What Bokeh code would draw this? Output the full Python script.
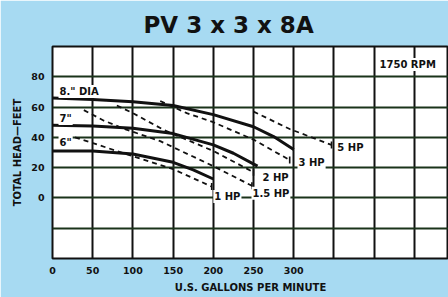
import math
from bokeh.plotting import figure
from bokeh.models import Range1d, FixedTicker, Label
from bokeh.embed import file_html
from bokeh.resources import INLINE

# ---- data ----
x_ticks = [0, 50, 100, 150, 200, 250, 300]
y_ticks = [0, 20, 40, 60, 80]
x_grid = [0, 50, 100, 150, 200, 250, 300, 350, 400, 450]
y_grid = [-40, -20, 0, 20, 40, 60, 80, 100]

dia8_gpm = [0, 50, 100, 150, 200, 250, 275, 300]
dia8_head = [66, 65, 63.5, 61, 55, 47, 40.5, 32]
dia7_gpm = [0, 50, 100, 150, 200, 225, 255]
dia7_head = [48, 47.5, 46, 42.5, 35, 29.5, 21]
dia6_gpm = [0, 50, 100, 150, 175, 200]
dia6_head = [31, 31, 29, 23.5, 18.5, 12.5]

hp1_gpm = [28, 60, 100, 150, 198]
hp1_head = [40, 34.5, 27.5, 19, 7.5]
hp15_gpm = [39, 64, 90, 134, 160, 200, 248]
hp15_head = [58, 51, 45.5, 37.5, 31, 21, 8]
hp2_gpm = [80, 100, 138, 160, 200, 250]
hp2_head = [61, 56, 45, 40, 31, 17]
hp3_gpm = [134, 167, 200, 250, 295]
hp3_head = [64, 56, 50, 38.5, 25]
hp5_gpm = [250, 295, 347]
hp5_head = [57, 45.5, 35]

BG = "#a7daf2"
INK = "#111111"
FONT = "DejaVu Sans"

p = figure(width=448, height=297, x_range=Range1d(0, 492.5), y_range=Range1d(-40, 100),
           output_backend="svg", toolbar_location=None,
           min_border_left=52, min_border_right=0, min_border_top=46, min_border_bottom=39)
p.background_fill_color = "white"
p.border_fill_color = BG
p.outline_line_color = INK
p.outline_line_width = 2

p.title.text = "PV 3 x 3 x 8A"
p.title.text_font = FONT
p.title.text_font_style = "bold"
p.title.text_font_size = "23px"
p.title.text_color = INK
p.title.align = "left"
p.title.offset = 91
p.title.standoff = 18

p.xgrid.ticker = FixedTicker(ticks=x_grid)
p.ygrid.ticker = FixedTicker(ticks=y_grid)
p.xgrid.grid_line_color = INK
p.xgrid.grid_line_width = 2
p.ygrid.grid_line_color = "#1a331a"
p.ygrid.grid_line_width = 2

for ax in (p.xaxis, p.yaxis):
    ax.axis_line_color = None
    ax.major_tick_line_color = None
    ax.minor_tick_line_color = None
    ax.major_tick_out = 0
    ax.major_tick_in = 0
    ax.minor_tick_out = 0
    ax.major_label_text_font = FONT
    ax.major_label_text_font_style = "bold"
    ax.major_label_text_font_size = "9.5px"
    ax.major_label_text_color = INK
    ax.axis_label_text_font = FONT
    ax.axis_label_text_font_style = "bold"
    ax.axis_label_text_font_size = "10px"
    ax.axis_label_text_color = INK

p.xaxis.ticker = FixedTicker(ticks=x_ticks)
p.yaxis.ticker = FixedTicker(ticks=y_ticks)
p.xaxis.major_label_standoff = 8
p.yaxis.major_label_standoff = 8
p.xaxis.axis_label = "U.S. GALLONS PER MINUTE"
p.yaxis.axis_label = "TOTAL HEAD\u2014FEET"
p.xaxis.axis_label_standoff = 5
p.yaxis.axis_label_standoff = 5

# impeller curves
for gx, gy in ((dia8_gpm, dia8_head), (dia7_gpm, dia7_head), (dia6_gpm, dia6_head)):
    p.line(gx, gy, line_color=INK, line_width=3)

# horsepower lines
hp_lines = [(hp1_gpm, hp1_head), (hp15_gpm, hp15_head), (hp2_gpm, hp2_head),
            (hp3_gpm, hp3_head), (hp5_gpm, hp5_head)]
for gx, gy in hp_lines:
    p.line(gx, gy, line_color=INK, line_width=1.8, line_dash="5 4")
p.scatter([g[-1] for g, h in hp_lines], [h[-1] for g, h in hp_lines],
          marker="dash", angle=math.pi / 2, size=7, line_color=INK, line_width=1.6)

def lab(x, y, text, size="10px", align="left", bg="white"):
    p.add_layout(Label(x=x, y=y, text=text, text_font=FONT, text_font_style="bold",
                       text_font_size=size, text_color=INK, text_align=align,
                       text_baseline="middle", background_fill_color=bg, padding=1))

lab(7.5, 70.3, '8." DIA')
lab(7.5, 52.4, '7"')
lab(7.5, 36.8, '6"')
lab(405.5, 88.1, "1750 RPM")
lab(353, 33.3, "5 HP")
lab(304.7, 23.4, "3 HP")
lab(260, 13.7, "2 HP")
lab(247.5, 3.1, "1.5 HP")
lab(200, 0.9, "1 HP")

html = file_html(p, INLINE)
html = html.replace("<body>", '<body style="background-color:%s;margin:0;">' % BG, 1)
open("out.html", "w").write(html)
